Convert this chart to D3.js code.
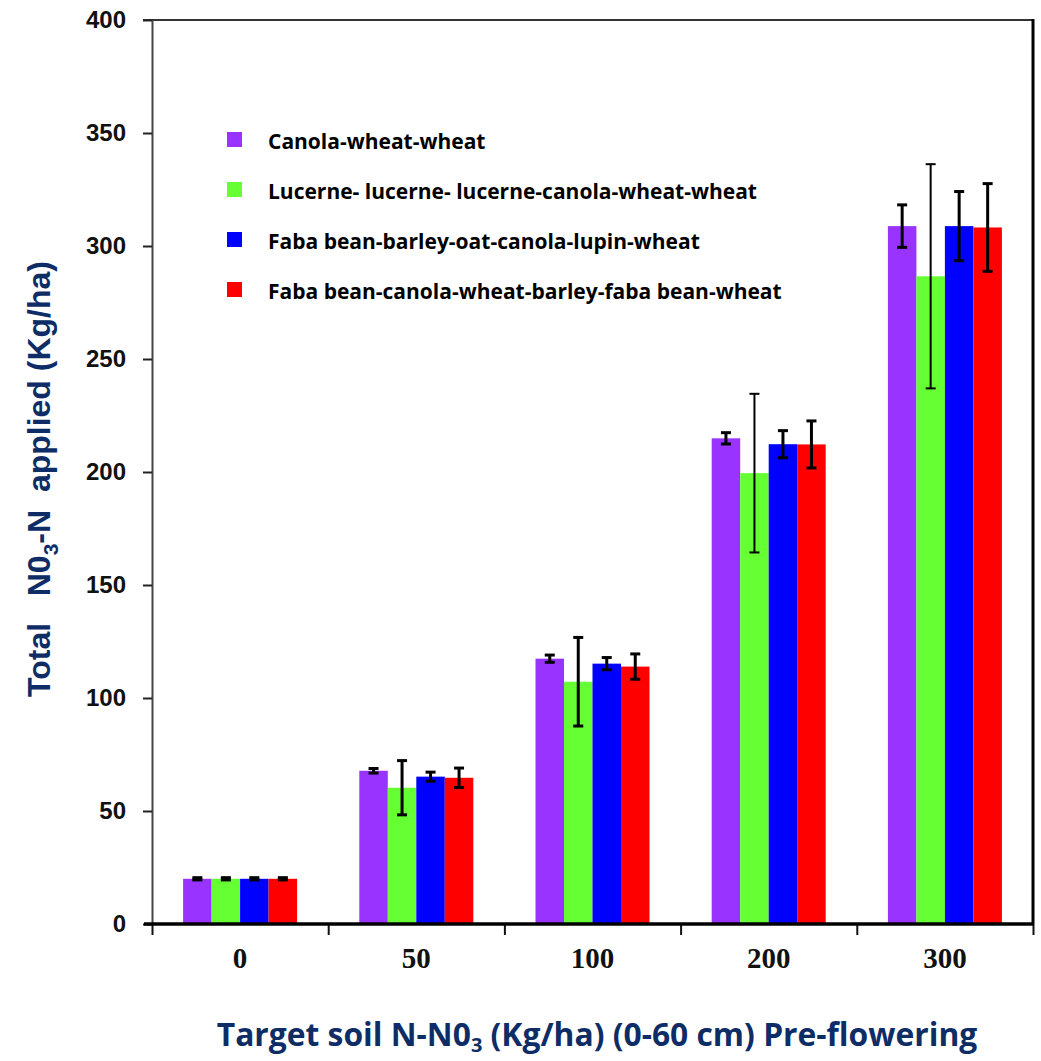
<!DOCTYPE html>
<html>
<head>
<meta charset="utf-8">
<script src="https://cdn.jsdelivr.net/npm/d3@7"></script>
<style>
  html, body { margin: 0; padding: 0; background: #fff; }
  svg { display: block; }
</style>
</head>
<body>
<svg id="chart" width="1041" height="1061"></svg>
<script>
const categories = ["0", "50", "100", "200", "300"];
const seriesNames = [
  "Canola-wheat-wheat",
  "Lucerne- lucerne- lucerne-canola-wheat-wheat",
  "Faba bean-barley-oat-canola-lupin-wheat",
  "Faba bean-canola-wheat-barley-faba bean-wheat"
];
const seriesColors = ["#9933ff", "#66ff33", "#0000ff", "#ff0000"];
const canolaWheat    = [20, 67.8, 117.4, 214.9, 308.8];
const lucerne        = [20, 60.3, 107.2, 199.5, 286.6];
const fabaBarley     = [20, 65.2, 115.2, 212.3, 308.8];
const fabaCanola     = [20, 64.7, 113.9, 212.2, 308.2];
const canolaWheatErr = [0.5, 1.0, 1.6, 2.5, 9.4];
const lucerneErr     = [0.5, 12.0, 19.6, 35.1, 49.6];
const fabaBarleyErr  = [0.5, 2.0, 2.7, 6.0, 15.3];
const fabaCanolaErr  = [0.5, 4.3, 5.6, 10.4, 19.4];
const yTicks = [0, 50, 100, 150, 200, 250, 300, 350, 400];

const values = [canolaWheat, lucerne, fabaBarley, fabaCanola];
const errors = [canolaWheatErr, lucerneErr, fabaBarleyErr, fabaCanolaErr];

(function () {
const svg = d3.select("#chart");
const pLeft = 152, pRight = 1033, pTop = 20, pBottom = 924;
const navy = "#0e2d66";

const y = d3.scaleLinear().domain([0, 400]).range([pBottom, pTop]);
const x0 = d3.scaleBand().domain(categories).range([pLeft, pRight])
  .paddingInner(0.353).paddingOuter(0.1765);
const x1 = d3.scaleBand().domain(d3.range(seriesNames.length))
  .range([0, x0.bandwidth()]).padding(0);
const xBound = d3.scaleLinear().domain([0, categories.length]).range([pLeft, pRight]);

// bars
const groups = svg.append("g").selectAll("g")
  .data(categories).join("g")
  .attr("transform", d => `translate(${x0(d)},0)`);

groups.each(function(cat, ci) {
  const g = d3.select(this);
  seriesNames.forEach((s, si) => {
    const v = values[si][ci];
    g.append("rect")
      .attr("x", x1(si))
      .attr("y", y(v))
      .attr("width", x1.bandwidth())
      .attr("height", y(0) - y(v))
      .attr("fill", seriesColors[si]);
  });
});

// error bars
groups.each(function(cat, ci) {
  const g = d3.select(this);
  seriesNames.forEach((s, si) => {
    const v = values[si][ci], e = errors[si][ci];
    const cx = x1(si) + x1.bandwidth() / 2;
    const w = e > 30 ? 2 : 3;
    const eg = g.append("g").attr("stroke", "#000").attr("stroke-width", w);
    eg.append("line").attr("x1", cx).attr("x2", cx).attr("y1", y(v + e)).attr("y2", y(v - e));
    eg.append("line").attr("x1", cx - 5).attr("x2", cx + 5).attr("y1", y(v + e)).attr("y2", y(v + e));
    eg.append("line").attr("x1", cx - 5).attr("x2", cx + 5).attr("y1", y(v - e)).attr("y2", y(v - e));
  });
});

// frame: top and right
svg.append("line").attr("x1", 143).attr("x2", pRight).attr("y1", pTop).attr("y2", pTop)
  .attr("stroke", "#333").attr("stroke-width", 2);
svg.append("line").attr("x1", pRight).attr("x2", pRight).attr("y1", pTop - 1).attr("y2", pBottom)
  .attr("stroke", "#000").attr("stroke-width", 3);

// y axis
const yAxis = svg.append("g").attr("transform", `translate(${pLeft},0)`)
  .call(d3.axisLeft(y).tickValues(yTicks).tickSize(9).tickPadding(17).tickSizeOuter(0));
yAxis.select(".domain").attr("stroke", "#444").attr("stroke-width", 2);
yAxis.selectAll(".tick line").attr("stroke", "#222").attr("stroke-width", 2);
yAxis.selectAll(".tick text")
  .attr("font-family", "'Liberation Sans', Arial, sans-serif")
  .attr("font-weight", "bold").attr("font-size", 24).attr("fill", "#111");

// x axis labels
const xAxis = svg.append("g").attr("transform", `translate(0,${pBottom})`)
  .call(d3.axisBottom(x0).tickSize(0).tickPadding(0));
xAxis.select(".domain").remove();
xAxis.selectAll(".tick text")
  .attr("y", 44).attr("dy", 0)
  .attr("font-family", "'Liberation Serif', 'Times New Roman', serif")
  .attr("font-weight", "bold").attr("font-size", 29).attr("fill", "#111");

// x boundary ticks + baseline
const xTickAxis = svg.append("g").attr("transform", `translate(0,${pBottom})`)
  .call(d3.axisBottom(xBound).tickValues(d3.range(categories.length + 1)).tickSize(11).tickFormat(""));
xTickAxis.select(".domain").remove();
xTickAxis.selectAll(".tick line").attr("stroke", "#111").attr("stroke-width", 2);
svg.append("line").attr("x1", 144).attr("x2", pRight + 1).attr("y1", pBottom).attr("y2", pBottom)
  .attr("stroke", "#000").attr("stroke-width", 3.5);

// legend
const legendY = [140, 190, 240, 290];
const legend = svg.append("g");
seriesNames.forEach((s, i) => {
  legend.append("rect").attr("x", 227).attr("y", legendY[i] - 8).attr("width", 15).attr("height", 15)
    .attr("fill", seriesColors[i]);
  legend.append("text").attr("x", 268).attr("y", legendY[i] + 9)
    .attr("font-family", "'Open Sans', 'Noto Sans', sans-serif")
    .attr("font-weight", "bold").attr("font-size", 21).attr("fill", "#000")
    .text(s);
});

// y-axis title
const yTitle = svg.append("text")
  .attr("transform", "translate(50,479) rotate(-90)")
  .attr("text-anchor", "middle")
  .attr("font-family", "'Liberation Sans', Arial, sans-serif")
  .attr("font-weight", "bold").attr("font-size", 32).attr("fill", navy);
yTitle.append("tspan").text("Total\u00a0\u00a0 N0");
yTitle.append("tspan").attr("font-size", 21).attr("dy", 8).text("3");
yTitle.append("tspan").attr("dy", -8).text("-N\u00a0 applied (Kg/ha)");

// x-axis title
const xTitle = svg.append("text")
  .attr("x", 597).attr("y", 1046)
  .attr("text-anchor", "middle")
  .attr("font-family", "'Open Sans', 'Noto Sans', sans-serif")
  .attr("font-weight", "bold").attr("font-size", 31.8).attr("fill", navy);
xTitle.append("tspan").text("Target soil N-N0");
xTitle.append("tspan").attr("font-size", 20).attr("dy", 6).text("3");
xTitle.append("tspan").attr("dy", -6).text(" (Kg/ha) (0-60 cm) Pre-flowering");
})();
</script>
</body>
</html>
